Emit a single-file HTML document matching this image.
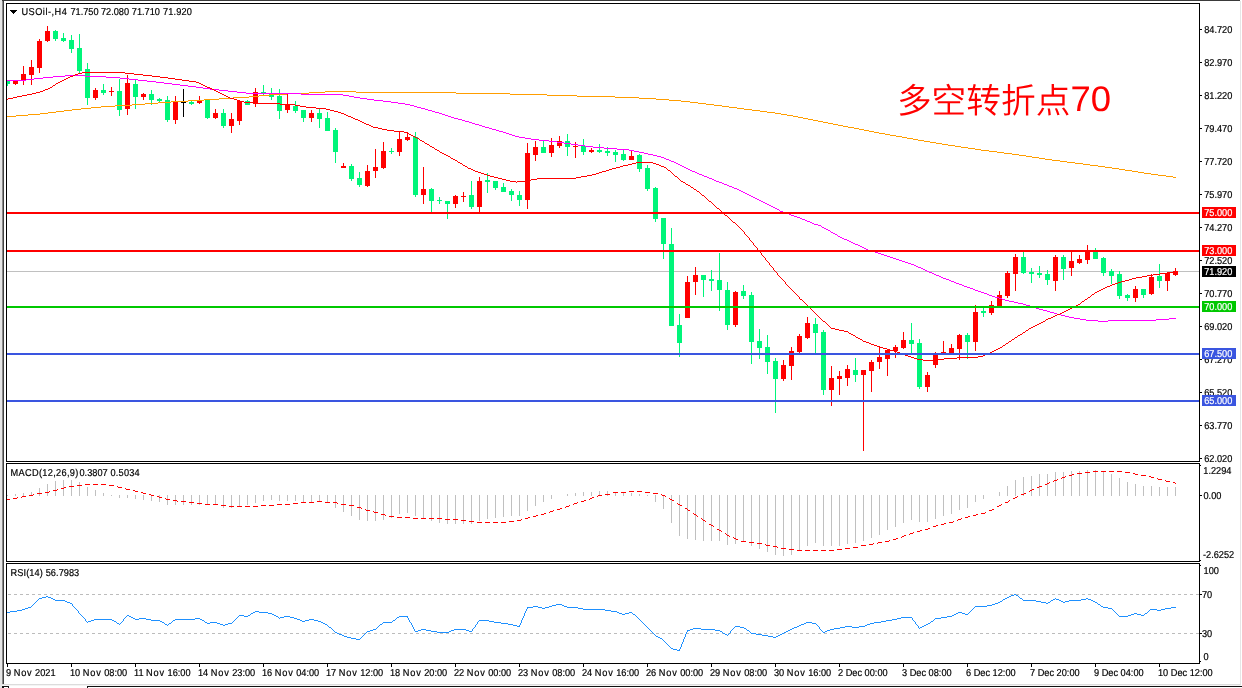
<!DOCTYPE html>
<html lang="zh"><head><meta charset="utf-8"><title>USOil-,H4</title>
<style>
html,body{margin:0;padding:0;background:#fff;overflow:hidden}
svg{display:block}
text{text-rendering:geometricPrecision;font-family:"Liberation Sans", "Noto Sans CJK SC", sans-serif;font-size:10px;fill:#000;stroke:#000;stroke-width:.2px}
.w{fill:#fff;stroke:#fff}
</style></head><body>
<svg width="1242" height="688" viewBox="0 0 1242 688">
<rect width="1242" height="688" fill="#fff"/>
<defs><clipPath id="cm"><rect x="7" y="4" width="1192" height="457"/></clipPath><clipPath id="c2"><rect x="7" y="464" width="1192" height="97"/></clipPath><clipPath id="c3"><rect x="7" y="564" width="1192" height="99"/></clipPath></defs>
<g clip-path="url(#cm)">
<rect x="7" y="271" width="1192" height="1" fill="#c0c0c0" shape-rendering="crispEdges"/>
<g shape-rendering="crispEdges">
<rect x="7" y="80" width="1" height="6" fill="#00f57a"/><rect x="5" y="80" width="5" height="4" fill="#00f57a"/>
<rect x="15" y="80" width="1" height="5" fill="#ff0000"/><rect x="13" y="81" width="5" height="3" fill="#ff0000"/>
<rect x="23" y="66" width="1" height="19" fill="#ff0000"/><rect x="21" y="74" width="5" height="7" fill="#ff0000"/>
<rect x="31" y="60" width="1" height="25" fill="#ff0000"/><rect x="29" y="67" width="5" height="8" fill="#ff0000"/>
<rect x="39" y="39" width="1" height="34" fill="#ff0000"/><rect x="37" y="41" width="5" height="27" fill="#ff0000"/>
<rect x="47" y="26" width="1" height="16" fill="#ff0000"/><rect x="45" y="31" width="5" height="10" fill="#ff0000"/>
<rect x="55" y="30" width="1" height="11" fill="#00f57a"/><rect x="53" y="31" width="5" height="8" fill="#00f57a"/>
<rect x="63" y="33" width="1" height="9" fill="#00f57a"/><rect x="61" y="38" width="5" height="3" fill="#00f57a"/>
<rect x="71" y="35" width="1" height="18" fill="#00f57a"/><rect x="69" y="40" width="5" height="9" fill="#00f57a"/>
<rect x="79" y="34" width="1" height="39" fill="#00f57a"/><rect x="77" y="48" width="5" height="23" fill="#00f57a"/>
<rect x="87" y="63" width="1" height="42" fill="#00f57a"/><rect x="85" y="69" width="5" height="29" fill="#00f57a"/>
<rect x="95" y="88" width="1" height="12" fill="#ff0000"/><rect x="93" y="90" width="5" height="8" fill="#ff0000"/>
<rect x="103" y="84" width="1" height="11" fill="#00f57a"/><rect x="101" y="90" width="5" height="3" fill="#00f57a"/>
<rect x="111" y="87" width="1" height="9" fill="#ff0000"/><rect x="109" y="91" width="5" height="1" fill="#ff0000"/>
<rect x="119" y="79" width="1" height="37" fill="#00f57a"/><rect x="117" y="91" width="5" height="19" fill="#00f57a"/>
<rect x="127" y="75" width="1" height="40" fill="#ff0000"/><rect x="125" y="83" width="5" height="26" fill="#ff0000"/>
<rect x="135" y="80" width="1" height="29" fill="#00f57a"/><rect x="133" y="84" width="5" height="13" fill="#00f57a"/>
<rect x="143" y="93" width="1" height="7" fill="#ff0000"/><rect x="141" y="94" width="5" height="3" fill="#ff0000"/>
<rect x="151" y="90" width="1" height="15" fill="#00f57a"/><rect x="149" y="94" width="5" height="6" fill="#00f57a"/>
<rect x="159" y="98" width="1" height="5" fill="#00f57a"/><rect x="157" y="99" width="5" height="2" fill="#00f57a"/>
<rect x="167" y="96" width="1" height="26" fill="#00f57a"/><rect x="165" y="100" width="5" height="20" fill="#00f57a"/>
<rect x="175" y="96" width="1" height="28" fill="#ff0000"/><rect x="173" y="102" width="5" height="18" fill="#ff0000"/>
<rect x="183" y="89" width="1" height="28" fill="#000000"/><rect x="181" y="102" width="5" height="1" fill="#000000"/>
<rect x="191" y="101" width="1" height="4" fill="#00f57a"/><rect x="189" y="102" width="5" height="2" fill="#00f57a"/>
<rect x="199" y="96" width="1" height="8" fill="#ff0000"/><rect x="197" y="100" width="5" height="3" fill="#ff0000"/>
<rect x="207" y="100" width="1" height="19" fill="#00f57a"/><rect x="205" y="100" width="5" height="18" fill="#00f57a"/>
<rect x="215" y="109" width="1" height="10" fill="#ff0000"/><rect x="213" y="113" width="5" height="5" fill="#ff0000"/>
<rect x="223" y="109" width="1" height="19" fill="#00f57a"/><rect x="221" y="113" width="5" height="13" fill="#00f57a"/>
<rect x="231" y="113" width="1" height="20" fill="#ff0000"/><rect x="229" y="119" width="5" height="7" fill="#ff0000"/>
<rect x="239" y="100" width="1" height="25" fill="#ff0000"/><rect x="237" y="101" width="5" height="20" fill="#ff0000"/>
<rect x="247" y="100" width="1" height="5" fill="#00f57a"/><rect x="245" y="101" width="5" height="4" fill="#00f57a"/>
<rect x="255" y="88" width="1" height="19" fill="#ff0000"/><rect x="253" y="92" width="5" height="12" fill="#ff0000"/>
<rect x="263" y="85" width="1" height="10" fill="#00f57a"/><rect x="261" y="92" width="5" height="1" fill="#00f57a"/>
<rect x="271" y="88" width="1" height="12" fill="#00f57a"/><rect x="269" y="94" width="5" height="3" fill="#00f57a"/>
<rect x="279" y="89" width="1" height="30" fill="#00f57a"/><rect x="277" y="96" width="5" height="15" fill="#00f57a"/>
<rect x="287" y="94" width="1" height="19" fill="#ff0000"/><rect x="285" y="105" width="5" height="5" fill="#ff0000"/>
<rect x="295" y="101" width="1" height="12" fill="#00f57a"/><rect x="293" y="106" width="5" height="5" fill="#00f57a"/>
<rect x="303" y="110" width="1" height="12" fill="#00f57a"/><rect x="301" y="110" width="5" height="8" fill="#00f57a"/>
<rect x="311" y="110" width="1" height="12" fill="#ff0000"/><rect x="309" y="113" width="5" height="5" fill="#ff0000"/>
<rect x="319" y="109" width="1" height="19" fill="#00f57a"/><rect x="317" y="113" width="5" height="6" fill="#00f57a"/>
<rect x="327" y="112" width="1" height="19" fill="#00f57a"/><rect x="325" y="118" width="5" height="13" fill="#00f57a"/>
<rect x="335" y="128" width="1" height="35" fill="#00f57a"/><rect x="333" y="130" width="5" height="22" fill="#00f57a"/>
<rect x="343" y="163" width="1" height="5" fill="#ff0000"/><rect x="341" y="166" width="5" height="2" fill="#ff0000"/>
<rect x="351" y="164" width="1" height="17" fill="#00f57a"/><rect x="349" y="166" width="5" height="13" fill="#00f57a"/>
<rect x="359" y="172" width="1" height="15" fill="#00f57a"/><rect x="357" y="178" width="5" height="7" fill="#00f57a"/>
<rect x="367" y="165" width="1" height="22" fill="#ff0000"/><rect x="365" y="171" width="5" height="15" fill="#ff0000"/>
<rect x="375" y="149" width="1" height="29" fill="#ff0000"/><rect x="373" y="167" width="5" height="4" fill="#ff0000"/>
<rect x="383" y="142" width="1" height="27" fill="#ff0000"/><rect x="381" y="151" width="5" height="17" fill="#ff0000"/>
<rect x="391" y="148" width="1" height="6" fill="#00f57a"/><rect x="389" y="151" width="5" height="1" fill="#00f57a"/>
<rect x="399" y="132" width="1" height="24" fill="#ff0000"/><rect x="397" y="139" width="5" height="13" fill="#ff0000"/>
<rect x="407" y="132" width="1" height="9" fill="#ff0000"/><rect x="405" y="137" width="5" height="3" fill="#ff0000"/>
<rect x="415" y="132" width="1" height="65" fill="#00f57a"/><rect x="413" y="137" width="5" height="58" fill="#00f57a"/>
<rect x="423" y="167" width="1" height="37" fill="#ff0000"/><rect x="421" y="189" width="5" height="6" fill="#ff0000"/>
<rect x="431" y="188" width="1" height="24" fill="#00f57a"/><rect x="429" y="189" width="5" height="12" fill="#00f57a"/>
<rect x="439" y="197" width="1" height="7" fill="#00f57a"/><rect x="437" y="200" width="5" height="1" fill="#00f57a"/>
<rect x="447" y="201" width="1" height="18" fill="#00f57a"/><rect x="445" y="201" width="5" height="3" fill="#00f57a"/>
<rect x="455" y="195" width="1" height="13" fill="#ff0000"/><rect x="453" y="196" width="5" height="8" fill="#ff0000"/>
<rect x="463" y="192" width="1" height="10" fill="#ff0000"/><rect x="461" y="196" width="5" height="1" fill="#ff0000"/>
<rect x="471" y="181" width="1" height="28" fill="#00f57a"/><rect x="469" y="195" width="5" height="12" fill="#00f57a"/>
<rect x="479" y="177" width="1" height="35" fill="#ff0000"/><rect x="477" y="181" width="5" height="26" fill="#ff0000"/>
<rect x="487" y="173" width="1" height="20" fill="#00f57a"/><rect x="485" y="180" width="5" height="2" fill="#00f57a"/>
<rect x="495" y="181" width="1" height="9" fill="#00f57a"/><rect x="493" y="181" width="5" height="7" fill="#00f57a"/>
<rect x="503" y="183" width="1" height="9" fill="#00f57a"/><rect x="501" y="187" width="5" height="5" fill="#00f57a"/>
<rect x="511" y="189" width="1" height="12" fill="#00f57a"/><rect x="509" y="191" width="5" height="4" fill="#00f57a"/>
<rect x="519" y="191" width="1" height="15" fill="#00f57a"/><rect x="517" y="195" width="5" height="5" fill="#00f57a"/>
<rect x="527" y="143" width="1" height="66" fill="#ff0000"/><rect x="525" y="153" width="5" height="47" fill="#ff0000"/>
<rect x="535" y="141" width="1" height="20" fill="#ff0000"/><rect x="533" y="147" width="5" height="8" fill="#ff0000"/>
<rect x="543" y="141" width="1" height="12" fill="#00f57a"/><rect x="541" y="147" width="5" height="6" fill="#00f57a"/>
<rect x="551" y="138" width="1" height="19" fill="#ff0000"/><rect x="549" y="145" width="5" height="8" fill="#ff0000"/>
<rect x="559" y="136" width="1" height="12" fill="#ff0000"/><rect x="557" y="141" width="5" height="5" fill="#ff0000"/>
<rect x="567" y="134" width="1" height="22" fill="#00f57a"/><rect x="565" y="141" width="5" height="6" fill="#00f57a"/>
<rect x="575" y="142" width="1" height="16" fill="#ff0000"/><rect x="573" y="146" width="5" height="1" fill="#ff0000"/>
<rect x="583" y="139" width="1" height="16" fill="#00f57a"/><rect x="581" y="146" width="5" height="6" fill="#00f57a"/>
<rect x="591" y="148" width="1" height="5" fill="#ff0000"/><rect x="589" y="150" width="5" height="2" fill="#ff0000"/>
<rect x="599" y="144" width="1" height="9" fill="#00f57a"/><rect x="597" y="150" width="5" height="2" fill="#00f57a"/>
<rect x="607" y="147" width="1" height="9" fill="#00f57a"/><rect x="605" y="151" width="5" height="2" fill="#00f57a"/>
<rect x="615" y="150" width="1" height="12" fill="#00f57a"/><rect x="613" y="152" width="5" height="3" fill="#00f57a"/>
<rect x="623" y="150" width="1" height="11" fill="#00f57a"/><rect x="621" y="154" width="5" height="6" fill="#00f57a"/>
<rect x="631" y="151" width="1" height="9" fill="#ff0000"/><rect x="629" y="156" width="5" height="4" fill="#ff0000"/>
<rect x="639" y="154" width="1" height="18" fill="#00f57a"/><rect x="637" y="155" width="5" height="14" fill="#00f57a"/>
<rect x="647" y="165" width="1" height="26" fill="#00f57a"/><rect x="645" y="168" width="5" height="21" fill="#00f57a"/>
<rect x="655" y="187" width="1" height="35" fill="#00f57a"/><rect x="653" y="188" width="5" height="31" fill="#00f57a"/>
<rect x="663" y="218" width="1" height="41" fill="#00f57a"/><rect x="661" y="218" width="5" height="26" fill="#00f57a"/>
<rect x="671" y="228" width="1" height="98" fill="#00f57a"/><rect x="669" y="244" width="5" height="82" fill="#00f57a"/>
<rect x="679" y="314" width="1" height="43" fill="#00f57a"/><rect x="677" y="325" width="5" height="18" fill="#00f57a"/>
<rect x="687" y="276" width="1" height="42" fill="#ff0000"/><rect x="685" y="282" width="5" height="36" fill="#ff0000"/>
<rect x="695" y="267" width="1" height="28" fill="#ff0000"/><rect x="693" y="275" width="5" height="7" fill="#ff0000"/>
<rect x="703" y="275" width="1" height="22" fill="#00f57a"/><rect x="701" y="275" width="5" height="5" fill="#00f57a"/>
<rect x="711" y="270" width="1" height="21" fill="#00f57a"/><rect x="709" y="279" width="5" height="2" fill="#00f57a"/>
<rect x="719" y="253" width="1" height="58" fill="#00f57a"/><rect x="717" y="280" width="5" height="10" fill="#00f57a"/>
<rect x="727" y="282" width="1" height="48" fill="#00f57a"/><rect x="725" y="290" width="5" height="35" fill="#00f57a"/>
<rect x="735" y="291" width="1" height="36" fill="#ff0000"/><rect x="733" y="292" width="5" height="33" fill="#ff0000"/>
<rect x="743" y="285" width="1" height="14" fill="#00f57a"/><rect x="741" y="291" width="5" height="5" fill="#00f57a"/>
<rect x="751" y="292" width="1" height="72" fill="#00f57a"/><rect x="749" y="295" width="5" height="47" fill="#00f57a"/>
<rect x="759" y="329" width="1" height="30" fill="#00f57a"/><rect x="757" y="341" width="5" height="7" fill="#00f57a"/>
<rect x="767" y="335" width="1" height="39" fill="#00f57a"/><rect x="765" y="347" width="5" height="15" fill="#00f57a"/>
<rect x="775" y="358" width="1" height="55" fill="#00f57a"/><rect x="773" y="361" width="5" height="18" fill="#00f57a"/>
<rect x="783" y="360" width="1" height="21" fill="#ff0000"/><rect x="781" y="365" width="5" height="14" fill="#ff0000"/>
<rect x="791" y="347" width="1" height="33" fill="#ff0000"/><rect x="789" y="351" width="5" height="15" fill="#ff0000"/>
<rect x="799" y="334" width="1" height="19" fill="#ff0000"/><rect x="797" y="336" width="5" height="16" fill="#ff0000"/>
<rect x="807" y="317" width="1" height="22" fill="#ff0000"/><rect x="805" y="323" width="5" height="15" fill="#ff0000"/>
<rect x="815" y="318" width="1" height="35" fill="#00f57a"/><rect x="813" y="324" width="5" height="9" fill="#00f57a"/>
<rect x="823" y="330" width="1" height="65" fill="#00f57a"/><rect x="821" y="332" width="5" height="58" fill="#00f57a"/>
<rect x="831" y="366" width="1" height="40" fill="#ff0000"/><rect x="829" y="378" width="5" height="12" fill="#ff0000"/>
<rect x="839" y="371" width="1" height="24" fill="#ff0000"/><rect x="837" y="376" width="5" height="3" fill="#ff0000"/>
<rect x="847" y="365" width="1" height="21" fill="#ff0000"/><rect x="845" y="369" width="5" height="9" fill="#ff0000"/>
<rect x="855" y="358" width="1" height="24" fill="#00f57a"/><rect x="853" y="370" width="5" height="5" fill="#00f57a"/>
<rect x="863" y="370" width="1" height="81" fill="#ff0000"/><rect x="861" y="370" width="5" height="5" fill="#ff0000"/>
<rect x="871" y="360" width="1" height="32" fill="#ff0000"/><rect x="869" y="362" width="5" height="9" fill="#ff0000"/>
<rect x="879" y="346" width="1" height="23" fill="#ff0000"/><rect x="877" y="357" width="5" height="5" fill="#ff0000"/>
<rect x="887" y="349" width="1" height="27" fill="#ff0000"/><rect x="885" y="350" width="5" height="9" fill="#ff0000"/>
<rect x="895" y="345" width="1" height="13" fill="#ff0000"/><rect x="893" y="347" width="5" height="4" fill="#ff0000"/>
<rect x="903" y="332" width="1" height="17" fill="#ff0000"/><rect x="901" y="340" width="5" height="8" fill="#ff0000"/>
<rect x="911" y="323" width="1" height="31" fill="#00f57a"/><rect x="909" y="340" width="5" height="4" fill="#00f57a"/>
<rect x="919" y="339" width="1" height="50" fill="#00f57a"/><rect x="917" y="343" width="5" height="44" fill="#00f57a"/>
<rect x="927" y="372" width="1" height="20" fill="#ff0000"/><rect x="925" y="375" width="5" height="12" fill="#ff0000"/>
<rect x="935" y="352" width="1" height="16" fill="#ff0000"/><rect x="933" y="355" width="5" height="10" fill="#ff0000"/>
<rect x="943" y="341" width="1" height="13" fill="#ff0000"/><rect x="941" y="352" width="5" height="2" fill="#ff0000"/>
<rect x="951" y="344" width="1" height="10" fill="#ff0000"/><rect x="949" y="348" width="5" height="6" fill="#ff0000"/>
<rect x="959" y="334" width="1" height="26" fill="#ff0000"/><rect x="957" y="335" width="5" height="14" fill="#ff0000"/>
<rect x="967" y="333" width="1" height="26" fill="#00f57a"/><rect x="965" y="335" width="5" height="7" fill="#00f57a"/>
<rect x="975" y="305" width="1" height="46" fill="#ff0000"/><rect x="973" y="312" width="5" height="30" fill="#ff0000"/>
<rect x="983" y="308" width="1" height="9" fill="#00f57a"/><rect x="981" y="311" width="5" height="2" fill="#00f57a"/>
<rect x="991" y="301" width="1" height="14" fill="#ff0000"/><rect x="989" y="305" width="5" height="8" fill="#ff0000"/>
<rect x="999" y="291" width="1" height="15" fill="#ff0000"/><rect x="997" y="295" width="5" height="11" fill="#ff0000"/>
<rect x="1007" y="271" width="1" height="27" fill="#ff0000"/><rect x="1005" y="273" width="5" height="23" fill="#ff0000"/>
<rect x="1015" y="254" width="1" height="37" fill="#ff0000"/><rect x="1013" y="257" width="5" height="17" fill="#ff0000"/>
<rect x="1023" y="252" width="1" height="22" fill="#00f57a"/><rect x="1021" y="257" width="5" height="16" fill="#00f57a"/>
<rect x="1031" y="268" width="1" height="15" fill="#00f57a"/><rect x="1029" y="272" width="5" height="2" fill="#00f57a"/>
<rect x="1039" y="266" width="1" height="12" fill="#00f57a"/><rect x="1037" y="273" width="5" height="2" fill="#00f57a"/>
<rect x="1047" y="270" width="1" height="15" fill="#00f57a"/><rect x="1045" y="274" width="5" height="6" fill="#00f57a"/>
<rect x="1055" y="255" width="1" height="36" fill="#ff0000"/><rect x="1053" y="257" width="5" height="24" fill="#ff0000"/>
<rect x="1063" y="255" width="1" height="25" fill="#00f57a"/><rect x="1061" y="257" width="5" height="12" fill="#00f57a"/>
<rect x="1071" y="251" width="1" height="25" fill="#ff0000"/><rect x="1069" y="261" width="5" height="7" fill="#ff0000"/>
<rect x="1079" y="255" width="1" height="9" fill="#ff0000"/><rect x="1077" y="259" width="5" height="4" fill="#ff0000"/>
<rect x="1087" y="245" width="1" height="19" fill="#ff0000"/><rect x="1085" y="251" width="5" height="9" fill="#ff0000"/>
<rect x="1095" y="248" width="1" height="11" fill="#00f57a"/><rect x="1093" y="251" width="5" height="8" fill="#00f57a"/>
<rect x="1103" y="257" width="1" height="19" fill="#00f57a"/><rect x="1101" y="258" width="5" height="15" fill="#00f57a"/>
<rect x="1111" y="269" width="1" height="15" fill="#00f57a"/><rect x="1109" y="271" width="5" height="5" fill="#00f57a"/>
<rect x="1119" y="271" width="1" height="28" fill="#00f57a"/><rect x="1117" y="274" width="5" height="22" fill="#00f57a"/>
<rect x="1127" y="294" width="1" height="7" fill="#00f57a"/><rect x="1125" y="295" width="5" height="3" fill="#00f57a"/>
<rect x="1135" y="286" width="1" height="16" fill="#ff0000"/><rect x="1133" y="289" width="5" height="9" fill="#ff0000"/>
<rect x="1143" y="289" width="1" height="9" fill="#00f57a"/><rect x="1141" y="289" width="5" height="6" fill="#00f57a"/>
<rect x="1151" y="274" width="1" height="21" fill="#ff0000"/><rect x="1149" y="277" width="5" height="17" fill="#ff0000"/>
<rect x="1159" y="264" width="1" height="24" fill="#00f57a"/><rect x="1157" y="276" width="5" height="5" fill="#00f57a"/>
<rect x="1167" y="272" width="1" height="19" fill="#ff0000"/><rect x="1165" y="273" width="5" height="8" fill="#ff0000"/>
<rect x="1175" y="268" width="1" height="8" fill="#ff0000"/><rect x="1173" y="271" width="5" height="4" fill="#ff0000"/>
</g>
<path fill="#ff9d00" shape-rendering="crispEdges" d="M7 116h9v1h-9zM16 115h12v1h-12zM28 114h12v1h-12zM40 113h8v1h-8zM48 112h8v1h-8zM56 111h8v1h-8zM64 110h8v1h-8zM72 109h9v1h-9zM81 108h10v1h-10zM91 107h10v1h-10zM101 106h14v1h-14zM115 105h17v1h-17zM132 104h13v1h-13zM145 103h13v1h-13zM158 102h13v1h-13zM171 101h17v1h-17zM188 100h16v1h-16zM204 99h15v1h-15zM219 98h14v1h-14zM233 97h16v1h-16zM249 96h10v1h-10zM259 95h11v1h-11zM270 94h17v1h-17zM287 93h22v1h-22zM309 92h16v1h-16zM325 91h31v1h-31zM356 92h100v1h-100zM456 93h54v1h-54zM510 94h37v1h-37zM547 95h30v1h-30zM577 96h38v1h-38zM615 97h24v1h-24zM639 98h17v1h-17zM656 99h13v1h-13zM669 100h12v1h-12zM681 101h9v1h-9zM690 102h8v1h-8zM698 103h8v1h-8zM706 104h8v1h-8zM714 105h8v1h-8zM722 106h7v1h-7zM729 107h8v1h-8zM737 108h7v1h-7zM744 109h8v1h-8zM752 110h8v1h-8zM760 111h7v1h-7zM767 112h8v1h-8zM775 113h6v1h-6zM781 114h6v1h-6zM787 115h6v1h-6zM793 116h5v1h-5zM798 117h5v1h-5zM803 118h5v1h-5zM808 119h5v1h-5zM813 120h5v1h-5zM818 121h5v1h-5zM823 122h5v1h-5zM828 123h5v1h-5zM833 124h5v1h-5zM838 125h5v1h-5zM843 126h5v1h-5zM848 127h6v1h-6zM854 128h5v1h-5zM859 129h5v1h-5zM864 130h5v1h-5zM869 131h5v1h-5zM874 132h5v1h-5zM879 133h6v1h-6zM885 134h5v1h-5zM890 135h6v1h-6zM896 136h6v1h-6zM902 137h5v1h-5zM907 138h6v1h-6zM913 139h5v1h-5zM918 140h6v1h-6zM924 141h6v1h-6zM930 142h6v1h-6zM936 143h6v1h-6zM942 144h6v1h-6zM948 145h7v1h-7zM955 146h6v1h-6zM961 147h7v1h-7zM968 148h7v1h-7zM975 149h6v1h-6zM981 150h8v1h-8zM989 151h8v1h-8zM997 152h7v1h-7zM1004 153h8v1h-8zM1012 154h7v1h-7zM1019 155h7v1h-7zM1026 156h6v1h-6zM1032 157h7v1h-7zM1039 158h6v1h-6zM1045 159h7v1h-7zM1052 160h8v1h-8zM1060 161h7v1h-7zM1067 162h8v1h-8zM1075 163h8v1h-8zM1083 164h7v1h-7zM1090 165h8v1h-8zM1098 166h7v1h-7zM1105 167h7v1h-7zM1112 168h7v1h-7zM1119 169h6v1h-6zM1125 170h7v1h-7zM1132 171h6v1h-6zM1138 172h6v1h-6zM1144 173h7v1h-7zM1151 174h7v1h-7zM1158 175h8v1h-8zM1166 176h7v1h-7zM1173 177h3v1h-3z"/>
<path fill="#ff00ff" shape-rendering="crispEdges" d="M7 80h19v1h-19zM26 79h8v1h-8zM34 78h9v1h-9zM43 77h10v1h-10zM53 76h12v1h-12zM65 75h20v1h-20zM85 76h21v1h-21zM106 77h14v1h-14zM120 78h9v1h-9zM129 79h9v1h-9zM138 80h9v1h-9zM147 81h9v1h-9zM156 82h8v1h-8zM164 83h8v1h-8zM172 84h8v1h-8zM180 85h8v1h-8zM188 86h8v1h-8zM196 87h7v1h-7zM203 88h7v1h-7zM210 89h9v1h-9zM219 90h9v1h-9zM228 91h9v1h-9zM237 92h9v1h-9zM246 93h55v1h-55zM301 94h42v1h-42zM343 95h6v1h-6zM349 96h5v1h-5zM354 97h6v1h-6zM360 98h7v1h-7zM367 99h7v1h-7zM374 100h9v1h-9zM383 101h8v1h-8zM391 102h7v1h-7zM398 103h7v1h-7zM405 104h5v1h-5zM410 105h4v1h-4zM414 106h3v1h-3zM417 107h4v1h-4zM421 108h4v1h-4zM425 109h3v1h-3zM428 110h4v1h-4zM432 111h3v1h-3zM435 112h4v1h-4zM439 113h3v1h-3zM442 114h3v1h-3zM445 115h3v1h-3zM448 116h3v1h-3zM451 117h3v1h-3zM454 118h4v1h-4zM458 119h4v1h-4zM462 120h3v1h-3zM465 121h4v1h-4zM469 122h3v1h-3zM472 123h3v1h-3zM475 124h4v1h-4zM479 125h3v1h-3zM482 126h3v1h-3zM485 127h4v1h-4zM489 128h3v1h-3zM492 129h4v1h-4zM496 130h3v1h-3zM499 131h4v1h-4zM503 132h3v1h-3zM506 133h3v1h-3zM509 134h3v1h-3zM512 135h3v1h-3zM515 136h4v1h-4zM519 137h6v1h-6zM525 138h6v1h-6zM531 139h8v1h-8zM539 140h10v1h-10zM549 141h8v1h-8zM557 142h7v1h-7zM564 143h7v1h-7zM571 144h7v1h-7zM578 145h7v1h-7zM585 146h8v1h-8zM593 147h11v1h-11zM604 148h13v1h-13zM617 149h12v1h-12zM629 150h5v1h-5zM634 151h5v1h-5zM639 152h5v1h-5zM644 153h4v1h-4zM648 154h5v1h-5zM653 155h4v1h-4zM657 156h4v1h-4zM661 157h3v1h-3zM664 158h2v1h-2zM666 159h3v1h-3zM669 160h2v1h-2zM671 161h3v1h-3zM674 162h2v1h-2zM676 163h2v1h-2zM678 164h2v1h-2zM680 165h2v1h-2zM682 166h2v1h-2zM684 167h2v1h-2zM686 168h2v1h-2zM688 169h2v1h-2zM690 170h2v1h-2zM692 171h3v1h-3zM695 172h2v1h-2zM697 173h2v1h-2zM699 174h3v1h-3zM702 175h2v1h-2zM704 176h3v1h-3zM707 177h2v1h-2zM709 178h3v1h-3zM712 179h2v1h-2zM714 180h2v1h-2zM716 181h3v1h-3zM719 182h3v1h-3zM722 183h2v1h-2zM724 184h3v1h-3zM727 185h2v1h-2zM729 186h3v1h-3zM732 187h2v1h-2zM734 188h3v1h-3zM737 189h2v1h-2zM739 190h2v1h-2zM741 191h2v1h-2zM743 192h2v1h-2zM745 193h2v1h-2zM747 194h2v1h-2zM749 195h2v1h-2zM751 196h2v1h-2zM753 197h2v1h-2zM755 198h2v1h-2zM757 199h2v1h-2zM759 200h2v1h-2zM761 201h2v1h-2zM763 202h2v1h-2zM765 203h2v1h-2zM767 204h2v1h-2zM769 205h2v1h-2zM771 206h2v1h-2zM773 207h2v1h-2zM775 208h2v1h-2zM777 209h2v1h-2zM779 210h1v1h-1zM780 211h3v1h-3zM783 212h3v1h-3zM786 213h3v1h-3zM789 214h2v1h-2zM791 215h3v1h-3zM794 216h3v1h-3zM797 217h3v1h-3zM800 218h2v1h-2zM802 219h3v1h-3zM805 220h2v1h-2zM807 221h3v1h-3zM810 222h2v1h-2zM812 223h2v1h-2zM814 224h4v1h-4zM818 225h3v1h-3zM821 226h1v1h-1zM822 227h2v1h-2zM824 228h2v1h-2zM826 229h2v1h-2zM828 230h2v1h-2zM830 231h1v1h-1zM831 232h2v1h-2zM833 233h2v1h-2zM835 234h2v1h-2zM837 235h1v1h-1zM838 236h2v1h-2zM840 237h2v1h-2zM842 238h2v1h-2zM844 239h3v1h-3zM847 240h2v1h-2zM849 241h2v1h-2zM851 242h2v1h-2zM853 243h2v1h-2zM855 244h3v1h-3zM858 245h2v1h-2zM860 246h2v1h-2zM862 247h2v1h-2zM864 248h2v1h-2zM866 249h2v1h-2zM868 250h4v1h-4zM872 251h3v1h-3zM875 252h3v1h-3zM878 253h3v1h-3zM881 254h3v1h-3zM884 255h3v1h-3zM887 256h3v1h-3zM890 257h3v1h-3zM893 258h3v1h-3zM896 259h3v1h-3zM899 260h3v1h-3zM902 261h3v1h-3zM905 262h3v1h-3zM908 263h3v1h-3zM911 264h3v1h-3zM914 265h2v1h-2zM916 266h2v1h-2zM918 267h3v1h-3zM921 268h2v1h-2zM923 269h2v1h-2zM925 270h2v1h-2zM927 271h2v1h-2zM929 272h3v1h-3zM932 273h2v1h-2zM934 274h2v1h-2zM936 275h3v1h-3zM939 276h2v1h-2zM941 277h2v1h-2zM943 278h3v1h-3zM946 279h3v1h-3zM949 280h2v1h-2zM951 281h3v1h-3zM954 282h2v1h-2zM956 283h3v1h-3zM959 284h3v1h-3zM962 285h2v1h-2zM964 286h3v1h-3zM967 287h3v1h-3zM970 288h3v1h-3zM973 289h2v1h-2zM975 290h3v1h-3zM978 291h3v1h-3zM981 292h3v1h-3zM984 293h3v1h-3zM987 294h2v1h-2zM989 295h3v1h-3zM992 296h3v1h-3zM995 297h4v1h-4zM999 298h3v1h-3zM1002 299h3v1h-3zM1005 300h4v1h-4zM1009 301h5v1h-5zM1014 302h4v1h-4zM1018 303h5v1h-5zM1023 304h3v1h-3zM1026 305h4v1h-4zM1030 306h3v1h-3zM1033 307h3v1h-3zM1036 308h3v1h-3zM1039 309h4v1h-4zM1043 310h4v1h-4zM1047 311h3v1h-3zM1050 312h4v1h-4zM1054 313h3v1h-3zM1057 314h4v1h-4zM1061 315h4v1h-4zM1065 316h4v1h-4zM1069 317h5v1h-5zM1074 318h6v1h-6zM1080 319h6v1h-6zM1086 320h12v1h-12zM1098 321h10v1h-10zM1108 320h48v1h-48zM1156 319h13v1h-13zM1169 318h7v1h-7z"/>
<path fill="#ff0000" shape-rendering="crispEdges" d="M7 99h1v1h-1zM8 98h5v1h-5zM13 97h4v1h-4zM17 96h5v1h-5zM22 95h5v1h-5zM27 94h5v1h-5zM32 93h4v1h-4zM36 92h4v1h-4zM40 91h3v1h-3zM43 90h2v1h-2zM45 89h3v1h-3zM48 88h2v1h-2zM50 87h2v1h-2zM52 86h1v1h-1zM53 85h2v1h-2zM55 84h1v1h-1zM56 83h2v1h-2zM58 82h2v1h-2zM60 81h2v1h-2zM62 80h2v1h-2zM64 79h2v1h-2zM66 78h2v1h-2zM68 77h2v1h-2zM70 76h3v1h-3zM73 75h2v1h-2zM75 74h3v1h-3zM78 73h4v1h-4zM82 72h43v1h-43zM125 73h9v1h-9zM134 74h9v1h-9zM143 75h9v1h-9zM152 76h8v1h-8zM160 77h8v1h-8zM168 78h7v1h-7zM175 79h7v1h-7zM182 80h7v1h-7zM189 81h7v1h-7zM196 82h3v1h-3zM199 83h2v1h-2zM201 84h2v1h-2zM203 85h2v1h-2zM205 86h2v1h-2zM207 87h3v1h-3zM210 88h2v1h-2zM212 89h2v1h-2zM214 90h2v1h-2zM216 91h2v1h-2zM218 92h2v1h-2zM220 93h2v1h-2zM222 94h2v1h-2zM224 95h2v1h-2zM226 96h2v1h-2zM228 97h2v1h-2zM230 98h4v1h-4zM234 99h3v1h-3zM237 100h3v1h-3zM240 101h4v1h-4zM244 102h12v1h-12zM256 103h24v1h-24zM280 104h15v1h-15zM295 105h5v1h-5zM300 106h6v1h-6zM306 107h10v1h-10zM316 108h10v1h-10zM326 109h4v1h-4zM330 110h4v1h-4zM334 111h4v1h-4zM338 112h3v1h-3zM341 113h3v1h-3zM344 114h2v1h-2zM346 115h2v1h-2zM348 116h3v1h-3zM351 117h2v1h-2zM353 118h2v1h-2zM355 119h3v1h-3zM358 120h2v1h-2zM360 121h2v1h-2zM362 122h2v1h-2zM364 123h2v1h-2zM366 124h3v1h-3zM369 125h2v1h-2zM371 126h2v1h-2zM373 127h5v1h-5zM378 128h4v1h-4zM382 129h5v1h-5zM387 130h7v1h-7zM394 131h10v1h-10zM404 132h3v1h-3zM407 133h2v1h-2zM409 134h2v1h-2zM411 135h2v1h-2zM413 136h2v1h-2zM415 137h2v1h-2zM417 138h2v1h-2zM419 139h1v1h-1zM420 140h2v1h-2zM422 141h2v1h-2zM424 142h1v1h-1zM425 143h2v1h-2zM427 144h2v1h-2zM429 145h1v1h-1zM430 146h2v1h-2zM432 147h2v1h-2zM434 148h1v1h-1zM435 149h2v1h-2zM437 150h2v1h-2zM439 151h1v1h-1zM440 152h2v1h-2zM442 153h2v1h-2zM444 154h2v1h-2zM446 155h2v1h-2zM448 156h2v1h-2zM450 157h1v1h-1zM451 158h2v1h-2zM453 159h2v1h-2zM455 160h2v1h-2zM457 161h1v1h-1zM458 162h2v1h-2zM460 163h2v1h-2zM462 164h1v1h-1zM463 165h2v1h-2zM465 166h2v1h-2zM467 167h1v1h-1zM468 168h3v1h-3zM471 169h2v1h-2zM473 170h2v1h-2zM475 171h3v1h-3zM478 172h3v1h-3zM481 173h3v1h-3zM484 174h3v1h-3zM487 175h3v1h-3zM490 176h4v1h-4zM494 177h4v1h-4zM498 178h4v1h-4zM502 179h4v1h-4zM506 180h4v1h-4zM510 181h6v1h-6zM516 182h1v1h-1zM517 181h9v1h-9zM526 180h5v1h-5zM531 179h6v1h-6zM537 178h39v1h-39zM576 177h5v1h-5zM581 176h6v1h-6zM587 175h5v1h-5zM592 174h4v1h-4zM596 173h3v1h-3zM599 172h3v1h-3zM602 171h4v1h-4zM606 170h3v1h-3zM609 169h3v1h-3zM612 168h4v1h-4zM616 167h4v1h-4zM620 166h3v1h-3zM623 165h5v1h-5zM628 164h4v1h-4zM632 163h4v1h-4zM636 162h17v1h-17zM653 163h3v1h-3zM656 164h3v1h-3zM659 165h2v1h-2zM661 166h3v1h-3zM664 167h2v1h-2zM666 168h1v1h-1zM667 169h1v1h-1zM668 170h2v1h-2zM670 171h1v1h-1zM671 172h1v1h-1zM672 173h1v1h-1zM673 174h1v1h-1zM674 175h1v1h-1zM675 176h2v1h-2zM677 177h1v1h-1zM678 178h1v1h-1zM679 179h1v1h-1zM680 180h1v1h-1zM681 181h2v1h-2zM683 182h2v1h-2zM685 183h1v1h-1zM686 184h2v1h-2zM688 185h2v1h-2zM690 186h1v1h-1zM691 187h2v1h-2zM693 188h1v1h-1zM694 189h2v1h-2zM696 190h1v1h-1zM697 191h2v1h-2zM699 192h1v1h-1zM700 193h1v1h-1zM701 194h1v1h-1zM702 195h2v1h-2zM704 196h1v1h-1zM705 197h1v1h-1zM706 198h1v1h-1zM707 199h1v1h-1zM708 200h1v1h-1zM709 201h2v1h-2zM711 202h1v1h-1zM712 203h1v1h-1zM713 204h1v1h-1zM714 205h1v1h-1zM715 206h1v1h-1zM716 207h1v1h-1zM717 208h2v1h-2zM719 209h1v1h-1zM720 210h1v1h-1zM721 211h1v1h-1zM722 212h1v1h-1zM723 213h1v1h-1zM724 214h1v1h-1zM725 215h2v1h-2zM727 216h1v1h-1zM728 217h1v1h-1zM729 218h1v1h-1zM730 219h1v1h-1zM731 220h1v1h-1zM732 221h1v1h-1zM733 222h2v1h-2zM735 223h1v1h-1zM736 224h1v1h-1zM737 225h1v1h-1zM738 226h1v1h-1zM739 227h1v1h-1zM740 228h1v1h-1zM741 229h1v1h-1zM742 230h1v1h-1zM743 231h1v1h-1zM744 232h1v2h-1zM745 234h1v1h-1zM746 235h1v1h-1zM747 236h1v1h-1zM748 237h1v1h-1zM749 238h1v2h-1zM750 240h1v1h-1zM751 241h1v1h-1zM752 242h1v1h-1zM753 243h1v2h-1zM754 245h1v1h-1zM755 246h1v1h-1zM756 247h1v1h-1zM757 248h1v2h-1zM758 250h1v1h-1zM759 251h1v1h-1zM760 252h1v1h-1zM761 253h1v2h-1zM762 255h1v1h-1zM763 256h1v1h-1zM764 257h1v1h-1zM765 258h1v2h-1zM766 260h1v1h-1zM767 261h1v1h-1zM768 262h1v1h-1zM769 263h1v2h-1zM770 265h1v1h-1zM771 266h1v1h-1zM772 267h1v1h-1zM773 268h1v2h-1zM774 270h1v1h-1zM775 271h1v1h-1zM776 272h1v1h-1zM777 273h1v2h-1zM778 275h1v1h-1zM779 276h1v1h-1zM780 277h1v1h-1zM781 278h1v1h-1zM782 279h1v1h-1zM783 280h1v1h-1zM784 281h1v1h-1zM785 282h1v2h-1zM786 284h1v1h-1zM787 285h1v1h-1zM788 286h1v1h-1zM789 287h1v1h-1zM790 288h1v1h-1zM791 289h1v1h-1zM792 290h1v1h-1zM793 291h1v1h-1zM794 292h1v1h-1zM795 293h1v1h-1zM796 294h1v1h-1zM797 295h1v1h-1zM798 296h1v1h-1zM799 297h1v2h-1zM800 299h2v1h-2zM802 300h1v1h-1zM803 301h1v1h-1zM804 302h1v1h-1zM805 303h1v1h-1zM806 304h1v1h-1zM807 305h1v1h-1zM808 306h1v1h-1zM809 307h1v1h-1zM810 308h1v1h-1zM811 309h1v1h-1zM812 310h1v1h-1zM813 311h1v1h-1zM814 312h1v1h-1zM815 313h1v1h-1zM816 314h1v1h-1zM817 315h1v1h-1zM818 316h1v1h-1zM819 317h1v1h-1zM820 318h1v1h-1zM821 319h1v1h-1zM822 320h1v1h-1zM823 321h2v1h-2zM825 322h1v1h-1zM826 323h1v1h-1zM827 324h1v1h-1zM828 325h1v1h-1zM829 326h1v1h-1zM830 327h1v1h-1zM831 328h4v1h-4zM835 329h4v1h-4zM839 330h5v1h-5zM844 331h4v1h-4zM848 332h1v1h-1zM849 333h2v1h-2zM851 334h2v1h-2zM853 335h2v1h-2zM855 336h1v1h-1zM856 337h2v1h-2zM858 338h2v1h-2zM860 339h2v1h-2zM862 340h1v1h-1zM863 341h3v1h-3zM866 342h3v1h-3zM869 343h2v1h-2zM871 344h3v1h-3zM874 345h3v1h-3zM877 346h2v1h-2zM879 347h4v1h-4zM883 348h4v1h-4zM887 349h3v1h-3zM890 350h4v1h-4zM894 351h3v1h-3zM897 352h3v1h-3zM900 353h3v1h-3zM903 354h2v1h-2zM905 355h3v1h-3zM908 356h3v1h-3zM911 357h3v1h-3zM914 358h3v1h-3zM917 359h6v1h-6zM923 360h15v1h-15zM938 359h6v1h-6zM944 358h13v1h-13zM957 357h21v1h-21zM978 356h5v1h-5zM983 355h2v1h-2zM985 354h3v1h-3zM988 353h2v1h-2zM990 352h2v1h-2zM992 351h2v1h-2zM994 350h2v1h-2zM996 349h2v1h-2zM998 348h2v1h-2zM1000 347h2v1h-2zM1002 346h1v1h-1zM1003 345h2v1h-2zM1005 344h1v1h-1zM1006 343h2v1h-2zM1008 342h1v1h-1zM1009 341h2v1h-2zM1011 340h1v1h-1zM1012 339h2v1h-2zM1014 338h1v1h-1zM1015 337h2v1h-2zM1017 336h1v1h-1zM1018 335h2v1h-2zM1020 334h2v1h-2zM1022 333h1v1h-1zM1023 332h2v1h-2zM1025 331h1v1h-1zM1026 330h2v1h-2zM1028 329h1v1h-1zM1029 328h2v1h-2zM1031 327h2v1h-2zM1033 326h2v1h-2zM1035 325h2v1h-2zM1037 324h2v1h-2zM1039 323h2v1h-2zM1041 322h2v1h-2zM1043 321h2v1h-2zM1045 320h1v1h-1zM1046 319h2v1h-2zM1048 318h3v1h-3zM1051 317h2v1h-2zM1053 316h2v1h-2zM1055 315h2v1h-2zM1057 314h3v1h-3zM1060 313h2v1h-2zM1062 312h2v1h-2zM1064 311h2v1h-2zM1066 310h2v1h-2zM1068 309h2v1h-2zM1070 308h2v1h-2zM1072 307h2v1h-2zM1074 306h2v1h-2zM1076 305h2v1h-2zM1078 304h2v1h-2zM1080 303h1v1h-1zM1081 302h1v1h-1zM1082 301h2v1h-2zM1084 300h1v1h-1zM1085 299h2v1h-2zM1087 298h1v1h-1zM1088 297h2v1h-2zM1090 296h1v1h-1zM1091 295h1v1h-1zM1092 294h2v1h-2zM1094 293h1v1h-1zM1095 292h2v1h-2zM1097 291h2v1h-2zM1099 290h2v1h-2zM1101 289h2v1h-2zM1103 288h2v1h-2zM1105 287h2v1h-2zM1107 286h3v1h-3zM1110 285h2v1h-2zM1112 284h3v1h-3zM1115 283h3v1h-3zM1118 282h3v1h-3zM1121 281h4v1h-4zM1125 280h4v1h-4zM1129 279h3v1h-3zM1132 278h4v1h-4zM1136 277h6v1h-6zM1142 276h5v1h-5zM1147 275h6v1h-6zM1153 274h7v1h-7zM1160 273h8v1h-8zM1168 272h8v1h-8z"/>
<rect x="7" y="212" width="1192" height="2" fill="#ff0000" shape-rendering="crispEdges"/>
<rect x="7" y="250" width="1192" height="2" fill="#ff0000" shape-rendering="crispEdges"/>
<rect x="7" y="306" width="1192" height="2" fill="#00c800" shape-rendering="crispEdges"/>
<rect x="7" y="353" width="1192" height="2" fill="#3a55e0" shape-rendering="crispEdges"/>
<rect x="7" y="400" width="1192" height="2" fill="#3a55e0" shape-rendering="crispEdges"/>
</g>
<text x="896.9" y="112.5" style="font-size:34.7px;fill:#ff0000;stroke:none;font-weight:350" textLength="173.6" lengthAdjust="spacing">多空转折点</text><text x="1070.5" y="111.4" style="font-size:35.5px;fill:#ff0000;stroke:none;font-weight:350" textLength="40.6" lengthAdjust="spacingAndGlyphs">70</text>
<g clip-path="url(#c2)">
<g shape-rendering="crispEdges">
<rect x="7" y="495" width="1" height="1" fill="#c0c0c0"/><rect x="15" y="494" width="1" height="2" fill="#c0c0c0"/><rect x="23" y="493" width="1" height="3" fill="#c0c0c0"/><rect x="31" y="492" width="1" height="4" fill="#c0c0c0"/><rect x="39" y="488" width="1" height="8" fill="#c0c0c0"/><rect x="47" y="484" width="1" height="12" fill="#c0c0c0"/><rect x="55" y="481" width="1" height="15" fill="#c0c0c0"/><rect x="63" y="480" width="1" height="16" fill="#c0c0c0"/><rect x="71" y="480" width="1" height="16" fill="#c0c0c0"/><rect x="79" y="482" width="1" height="14" fill="#c0c0c0"/><rect x="87" y="487" width="1" height="9" fill="#c0c0c0"/><rect x="95" y="490" width="1" height="6" fill="#c0c0c0"/><rect x="103" y="493" width="1" height="3" fill="#c0c0c0"/><rect x="111" y="495" width="1" height="1" fill="#c0c0c0"/><rect x="119" y="495" width="1" height="3" fill="#c0c0c0"/><rect x="127" y="495" width="1" height="3" fill="#c0c0c0"/><rect x="135" y="495" width="1" height="4" fill="#c0c0c0"/><rect x="143" y="495" width="1" height="5" fill="#c0c0c0"/><rect x="151" y="495" width="1" height="6" fill="#c0c0c0"/><rect x="159" y="495" width="1" height="7" fill="#c0c0c0"/><rect x="167" y="495" width="1" height="10" fill="#c0c0c0"/><rect x="175" y="495" width="1" height="10" fill="#c0c0c0"/><rect x="183" y="495" width="1" height="10" fill="#c0c0c0"/><rect x="191" y="495" width="1" height="10" fill="#c0c0c0"/><rect x="199" y="495" width="1" height="10" fill="#c0c0c0"/><rect x="207" y="495" width="1" height="10" fill="#c0c0c0"/><rect x="215" y="495" width="1" height="10" fill="#c0c0c0"/><rect x="223" y="495" width="1" height="13" fill="#c0c0c0"/><rect x="231" y="495" width="1" height="13" fill="#c0c0c0"/><rect x="239" y="495" width="1" height="11" fill="#c0c0c0"/><rect x="247" y="495" width="1" height="10" fill="#c0c0c0"/><rect x="255" y="495" width="1" height="8" fill="#c0c0c0"/><rect x="263" y="495" width="1" height="6" fill="#c0c0c0"/><rect x="271" y="495" width="1" height="5" fill="#c0c0c0"/><rect x="279" y="495" width="1" height="6" fill="#c0c0c0"/><rect x="287" y="495" width="1" height="6" fill="#c0c0c0"/><rect x="295" y="495" width="1" height="6" fill="#c0c0c0"/><rect x="303" y="495" width="1" height="7" fill="#c0c0c0"/><rect x="311" y="495" width="1" height="7" fill="#c0c0c0"/><rect x="319" y="495" width="1" height="7" fill="#c0c0c0"/><rect x="327" y="495" width="1" height="8" fill="#c0c0c0"/><rect x="335" y="495" width="1" height="13" fill="#c0c0c0"/><rect x="343" y="495" width="1" height="17" fill="#c0c0c0"/><rect x="351" y="495" width="1" height="21" fill="#c0c0c0"/><rect x="359" y="495" width="1" height="25" fill="#c0c0c0"/><rect x="367" y="495" width="1" height="26" fill="#c0c0c0"/><rect x="375" y="495" width="1" height="26" fill="#c0c0c0"/><rect x="383" y="495" width="1" height="25" fill="#c0c0c0"/><rect x="391" y="495" width="1" height="23" fill="#c0c0c0"/><rect x="399" y="495" width="1" height="19" fill="#c0c0c0"/><rect x="407" y="495" width="1" height="18" fill="#c0c0c0"/><rect x="415" y="495" width="1" height="21" fill="#c0c0c0"/><rect x="423" y="495" width="1" height="24" fill="#c0c0c0"/><rect x="431" y="495" width="1" height="26" fill="#c0c0c0"/><rect x="439" y="495" width="1" height="28" fill="#c0c0c0"/><rect x="447" y="495" width="1" height="29" fill="#c0c0c0"/><rect x="455" y="495" width="1" height="29" fill="#c0c0c0"/><rect x="463" y="495" width="1" height="29" fill="#c0c0c0"/><rect x="471" y="495" width="1" height="29" fill="#c0c0c0"/><rect x="479" y="495" width="1" height="26" fill="#c0c0c0"/><rect x="487" y="495" width="1" height="24" fill="#c0c0c0"/><rect x="495" y="495" width="1" height="23" fill="#c0c0c0"/><rect x="503" y="495" width="1" height="22" fill="#c0c0c0"/><rect x="511" y="495" width="1" height="21" fill="#c0c0c0"/><rect x="519" y="495" width="1" height="21" fill="#c0c0c0"/><rect x="527" y="495" width="1" height="16" fill="#c0c0c0"/><rect x="535" y="495" width="1" height="11" fill="#c0c0c0"/><rect x="543" y="495" width="1" height="7" fill="#c0c0c0"/><rect x="551" y="495" width="1" height="4" fill="#c0c0c0"/><rect x="567" y="494" width="1" height="2" fill="#c0c0c0"/><rect x="575" y="493" width="1" height="3" fill="#c0c0c0"/><rect x="583" y="492" width="1" height="4" fill="#c0c0c0"/><rect x="591" y="492" width="1" height="4" fill="#c0c0c0"/><rect x="599" y="491" width="1" height="5" fill="#c0c0c0"/><rect x="607" y="491" width="1" height="5" fill="#c0c0c0"/><rect x="615" y="492" width="1" height="4" fill="#c0c0c0"/><rect x="623" y="492" width="1" height="4" fill="#c0c0c0"/><rect x="631" y="493" width="1" height="3" fill="#c0c0c0"/><rect x="639" y="494" width="1" height="2" fill="#c0c0c0"/><rect x="647" y="495" width="1" height="1" fill="#c0c0c0"/><rect x="655" y="495" width="1" height="7" fill="#c0c0c0"/><rect x="663" y="495" width="1" height="14" fill="#c0c0c0"/><rect x="671" y="495" width="1" height="28" fill="#c0c0c0"/><rect x="679" y="495" width="1" height="41" fill="#c0c0c0"/><rect x="687" y="495" width="1" height="44" fill="#c0c0c0"/><rect x="695" y="495" width="1" height="45" fill="#c0c0c0"/><rect x="703" y="495" width="1" height="46" fill="#c0c0c0"/><rect x="711" y="495" width="1" height="46" fill="#c0c0c0"/><rect x="719" y="495" width="1" height="46" fill="#c0c0c0"/><rect x="727" y="495" width="1" height="50" fill="#c0c0c0"/><rect x="735" y="495" width="1" height="49" fill="#c0c0c0"/><rect x="743" y="495" width="1" height="47" fill="#c0c0c0"/><rect x="751" y="495" width="1" height="51" fill="#c0c0c0"/><rect x="759" y="495" width="1" height="54" fill="#c0c0c0"/><rect x="767" y="495" width="1" height="57" fill="#c0c0c0"/><rect x="775" y="495" width="1" height="60" fill="#c0c0c0"/><rect x="783" y="495" width="1" height="61" fill="#c0c0c0"/><rect x="791" y="495" width="1" height="60" fill="#c0c0c0"/><rect x="799" y="495" width="1" height="56" fill="#c0c0c0"/><rect x="807" y="495" width="1" height="51" fill="#c0c0c0"/><rect x="815" y="495" width="1" height="48" fill="#c0c0c0"/><rect x="823" y="495" width="1" height="51" fill="#c0c0c0"/><rect x="831" y="495" width="1" height="51" fill="#c0c0c0"/><rect x="839" y="495" width="1" height="51" fill="#c0c0c0"/><rect x="847" y="495" width="1" height="49" fill="#c0c0c0"/><rect x="855" y="495" width="1" height="48" fill="#c0c0c0"/><rect x="863" y="495" width="1" height="46" fill="#c0c0c0"/><rect x="871" y="495" width="1" height="43" fill="#c0c0c0"/><rect x="879" y="495" width="1" height="40" fill="#c0c0c0"/><rect x="887" y="495" width="1" height="35" fill="#c0c0c0"/><rect x="895" y="495" width="1" height="32" fill="#c0c0c0"/><rect x="903" y="495" width="1" height="28" fill="#c0c0c0"/><rect x="911" y="495" width="1" height="25" fill="#c0c0c0"/><rect x="919" y="495" width="1" height="27" fill="#c0c0c0"/><rect x="927" y="495" width="1" height="27" fill="#c0c0c0"/><rect x="935" y="495" width="1" height="24" fill="#c0c0c0"/><rect x="943" y="495" width="1" height="21" fill="#c0c0c0"/><rect x="951" y="495" width="1" height="19" fill="#c0c0c0"/><rect x="959" y="495" width="1" height="15" fill="#c0c0c0"/><rect x="967" y="495" width="1" height="13" fill="#c0c0c0"/><rect x="975" y="495" width="1" height="7" fill="#c0c0c0"/><rect x="983" y="495" width="1" height="4" fill="#c0c0c0"/><rect x="999" y="492" width="1" height="4" fill="#c0c0c0"/><rect x="1007" y="486" width="1" height="10" fill="#c0c0c0"/><rect x="1015" y="480" width="1" height="16" fill="#c0c0c0"/><rect x="1023" y="477" width="1" height="19" fill="#c0c0c0"/><rect x="1031" y="476" width="1" height="20" fill="#c0c0c0"/><rect x="1039" y="474" width="1" height="22" fill="#c0c0c0"/><rect x="1047" y="474" width="1" height="22" fill="#c0c0c0"/><rect x="1055" y="472" width="1" height="24" fill="#c0c0c0"/><rect x="1063" y="472" width="1" height="24" fill="#c0c0c0"/><rect x="1071" y="471" width="1" height="25" fill="#c0c0c0"/><rect x="1079" y="471" width="1" height="25" fill="#c0c0c0"/><rect x="1087" y="470" width="1" height="26" fill="#c0c0c0"/><rect x="1095" y="470" width="1" height="26" fill="#c0c0c0"/><rect x="1103" y="471" width="1" height="25" fill="#c0c0c0"/><rect x="1111" y="474" width="1" height="22" fill="#c0c0c0"/><rect x="1119" y="478" width="1" height="18" fill="#c0c0c0"/><rect x="1127" y="482" width="1" height="14" fill="#c0c0c0"/><rect x="1135" y="484" width="1" height="12" fill="#c0c0c0"/><rect x="1143" y="486" width="1" height="10" fill="#c0c0c0"/><rect x="1151" y="486" width="1" height="10" fill="#c0c0c0"/><rect x="1159" y="487" width="1" height="9" fill="#c0c0c0"/><rect x="1167" y="487" width="1" height="9" fill="#c0c0c0"/><rect x="1175" y="487" width="1" height="9" fill="#c0c0c0"/>
</g>
<path fill="#ff0000" shape-rendering="crispEdges" d="M7 499h3v1h-3zM13 498h4v1h-4zM17 497h1v1h-1zM21 497h1v1h-1zM22 496h4v1h-4zM29 495h4v1h-4zM33 494h1v1h-1zM37 493h5v1h-5zM45 492h4v1h-4zM49 491h1v1h-1zM53 490h4v1h-4zM57 489h1v1h-1zM61 488h3v1h-3zM64 487h2v1h-2zM69 486h5v1h-5zM77 485h5v1h-5zM85 484h5v1h-5zM93 484h5v1h-5zM101 484h5v1h-5zM109 485h5v1h-5zM117 486h1v1h-1zM118 487h4v1h-4zM125 488h1v1h-1zM126 489h4v1h-4zM133 490h2v1h-2zM135 491h3v1h-3zM141 492h2v1h-2zM143 493h3v1h-3zM149 494h2v1h-2zM151 495h3v1h-3zM157 496h2v1h-2zM159 497h3v1h-3zM165 498h1v1h-1zM166 499h4v1h-4zM173 500h4v1h-4zM177 501h1v1h-1zM181 501h5v1h-5zM189 502h5v1h-5zM197 503h5v1h-5zM205 504h5v1h-5zM213 504h5v1h-5zM221 505h5v1h-5zM229 506h5v1h-5zM237 506h5v1h-5zM245 506h5v1h-5zM253 506h5v1h-5zM261 505h5v1h-5zM269 505h5v1h-5zM277 504h5v1h-5zM285 504h5v1h-5zM293 503h5v1h-5zM301 502h5v1h-5zM309 502h5v1h-5zM317 501h5v1h-5zM325 502h5v1h-5zM333 502h4v1h-4zM337 503h1v1h-1zM341 504h5v1h-5zM349 505h5v1h-5zM357 507h4v1h-4zM361 508h1v1h-1zM365 509h1v1h-1zM366 510h4v1h-4zM373 511h1v1h-1zM374 512h4v1h-4zM381 514h4v1h-4zM385 515h1v1h-1zM389 516h5v1h-5zM397 517h5v1h-5zM405 517h5v1h-5zM413 518h5v1h-5zM421 518h5v1h-5zM429 518h5v1h-5zM437 518h5v1h-5zM445 519h5v1h-5zM453 519h5v1h-5zM461 520h5v1h-5zM469 521h5v1h-5zM477 522h5v1h-5zM485 522h5v1h-5zM493 522h5v1h-5zM501 522h5v1h-5zM509 521h5v1h-5zM517 520h4v1h-4zM521 519h1v1h-1zM525 518h3v1h-3zM528 517h2v1h-2zM533 516h3v1h-3zM536 515h2v1h-2zM541 514h3v1h-3zM544 513h2v1h-2zM549 512h1v1h-1zM550 511h3v1h-3zM553 510h1v1h-1zM557 509h3v1h-3zM560 508h2v1h-2zM565 507h1v1h-1zM566 506h3v1h-3zM569 505h1v1h-1zM573 504h1v1h-1zM574 503h3v1h-3zM577 502h1v1h-1zM581 501h3v1h-3zM584 500h2v1h-2zM589 499h1v1h-1zM590 498h2v1h-2zM592 497h2v1h-2zM597 496h1v1h-1zM598 495h4v1h-4zM605 494h5v1h-5zM613 492h5v1h-5zM621 492h5v1h-5zM629 491h5v1h-5zM637 491h5v1h-5zM645 492h5v1h-5zM653 493h5v1h-5zM661 494h1v1h-1zM662 495h3v1h-3zM665 496h1v1h-1zM669 498h1v1h-1zM670 499h2v1h-2zM672 500h2v1h-2zM677 503h1v1h-1zM678 504h2v1h-2zM680 505h2v1h-2zM685 508h2v1h-2zM687 509h1v1h-1zM688 510h2v1h-2zM693 513h1v1h-1zM694 514h2v1h-2zM696 515h1v1h-1zM697 516h1v1h-1zM701 518h1v1h-1zM702 519h1v1h-1zM703 520h2v1h-2zM705 521h1v1h-1zM709 524h2v1h-2zM711 525h2v1h-2zM713 526h1v1h-1zM717 529h2v1h-2zM719 530h2v1h-2zM721 531h1v1h-1zM725 533h1v1h-1zM726 534h1v1h-1zM727 535h2v1h-2zM729 536h1v1h-1zM733 537h1v1h-1zM734 538h2v1h-2zM736 539h2v1h-2zM741 541h5v1h-5zM749 542h5v1h-5zM757 543h5v1h-5zM765 544h1v1h-1zM766 545h4v1h-4zM773 546h4v1h-4zM777 547h1v1h-1zM781 548h5v1h-5zM789 549h5v1h-5zM797 550h5v1h-5zM805 550h5v1h-5zM813 550h5v1h-5zM821 550h5v1h-5zM829 550h5v1h-5zM837 549h5v1h-5zM845 548h5v1h-5zM853 547h5v1h-5zM861 545h5v1h-5zM869 544h4v1h-4zM873 543h1v1h-1zM877 543h1v1h-1zM878 542h4v1h-4zM885 541h4v1h-4zM889 540h1v1h-1zM893 539h3v1h-3zM896 538h2v1h-2zM901 537h1v1h-1zM902 536h2v1h-2zM904 535h2v1h-2zM909 534h1v1h-1zM910 533h3v1h-3zM913 532h1v1h-1zM917 531h3v1h-3zM920 530h2v1h-2zM925 529h3v1h-3zM928 528h2v1h-2zM933 526h3v1h-3zM936 525h2v1h-2zM941 524h3v1h-3zM944 523h2v1h-2zM949 522h4v1h-4zM953 521h1v1h-1zM957 520h1v1h-1zM958 519h3v1h-3zM961 518h1v1h-1zM965 517h3v1h-3zM968 516h2v1h-2zM973 515h3v1h-3zM976 514h2v1h-2zM981 513h4v1h-4zM985 512h1v1h-1zM989 510h3v1h-3zM992 509h2v1h-2zM997 506h2v1h-2zM999 505h2v1h-2zM1001 504h1v1h-1zM1005 502h3v1h-3zM1008 501h1v1h-1zM1009 500h1v1h-1zM1013 498h2v1h-2zM1015 497h2v1h-2zM1017 496h1v1h-1zM1021 494h3v1h-3zM1024 493h2v1h-2zM1029 491h1v1h-1zM1030 490h2v1h-2zM1032 489h2v1h-2zM1037 487h2v1h-2zM1039 486h3v1h-3zM1045 484h2v1h-2zM1047 483h2v1h-2zM1049 482h1v1h-1zM1053 481h1v1h-1zM1054 480h3v1h-3zM1057 479h1v1h-1zM1061 478h1v1h-1zM1062 477h3v1h-3zM1065 476h1v1h-1zM1069 475h3v1h-3zM1072 474h2v1h-2zM1077 473h5v1h-5zM1085 472h5v1h-5zM1093 471h5v1h-5zM1101 471h5v1h-5zM1109 471h5v1h-5zM1117 471h5v1h-5zM1125 472h5v1h-5zM1133 473h2v1h-2zM1135 474h3v1h-3zM1141 475h5v1h-5zM1149 476h2v1h-2zM1151 477h3v1h-3zM1157 478h1v1h-1zM1158 479h4v1h-4zM1165 480h1v1h-1zM1166 481h4v1h-4zM1173 482h2v1h-2zM1175 483h1v1h-1z"/>
</g>
<g clip-path="url(#c3)">
<line x1="8" x2="1199" y1="594.5" y2="594.5" stroke="#bcbcbc" stroke-width="1" stroke-dasharray="3 3" shape-rendering="crispEdges"/>
<line x1="8" x2="1199" y1="633.5" y2="633.5" stroke="#bcbcbc" stroke-width="1" stroke-dasharray="3 3" shape-rendering="crispEdges"/>
<path fill="#1e90ff" shape-rendering="crispEdges" d="M7 612h3v1h-3zM10 611h7v1h-7zM17 610h5v1h-5zM22 609h3v1h-3zM25 608h3v1h-3zM28 607h3v1h-3zM31 606h1v1h-1zM32 605h1v1h-1zM33 604h1v1h-1zM34 603h1v1h-1zM35 602h1v1h-1zM36 601h1v1h-1zM37 600h1v1h-1zM38 599h1v1h-1zM39 598h3v1h-3zM42 597h4v1h-4zM46 596h2v1h-2zM48 597h3v1h-3zM51 598h2v1h-2zM53 599h2v1h-2zM55 600h10v1h-10zM65 601h2v1h-2zM67 602h3v1h-3zM70 603h2v1h-2zM72 604h1v2h-1zM73 606h1v1h-1zM74 607h1v1h-1zM75 608h1v1h-1zM76 609h1v1h-1zM77 610h1v1h-1zM78 611h1v2h-1zM79 613h1v1h-1zM80 614h1v1h-1zM81 615h1v1h-1zM82 616h1v1h-1zM83 617h1v1h-1zM84 618h1v1h-1zM85 619h1v2h-1zM86 621h1v1h-1zM87 622h1v1h-1zM88 621h3v1h-3zM91 620h3v1h-3zM94 619h18v1h-18zM112 620h2v1h-2zM114 621h2v1h-2zM116 622h1v1h-1zM117 623h2v1h-2zM119 624h1v1h-1zM120 623h1v1h-1zM121 622h1v1h-1zM122 621h1v1h-1zM123 619h1v2h-1zM124 618h1v1h-1zM125 617h1v1h-1zM126 616h1v1h-1zM127 615h2v1h-2zM129 616h2v1h-2zM131 617h2v1h-2zM133 618h2v1h-2zM135 619h4v1h-4zM139 618h7v1h-7zM146 619h5v1h-5zM151 620h9v1h-9zM160 621h2v1h-2zM162 622h2v1h-2zM164 623h1v1h-1zM165 624h2v1h-2zM167 625h1v1h-1zM168 624h1v1h-1zM169 623h2v1h-2zM171 622h1v1h-1zM172 621h1v1h-1zM173 620h2v1h-2zM175 619h20v1h-20zM195 618h5v1h-5zM200 619h2v1h-2zM202 620h2v1h-2zM204 621h1v1h-1zM205 622h2v1h-2zM207 623h3v1h-3zM210 622h7v1h-7zM217 623h3v1h-3zM220 624h3v1h-3zM223 625h2v1h-2zM225 624h3v1h-3zM228 623h4v1h-4zM232 622h1v1h-1zM233 621h1v1h-1zM234 620h1v1h-1zM235 619h1v1h-1zM236 618h1v1h-1zM237 617h1v1h-1zM238 616h1v1h-1zM239 615h5v1h-5zM244 616h4v1h-4zM248 615h2v1h-2zM250 614h1v1h-1zM251 613h2v1h-2zM253 612h2v1h-2zM255 611h4v1h-4zM259 612h9v1h-9zM268 613h4v1h-4zM272 614h2v1h-2zM274 615h2v1h-2zM276 616h2v1h-2zM278 617h1v1h-1zM279 618h1v1h-1zM280 617h4v1h-4zM284 616h6v1h-6zM290 617h4v1h-4zM294 618h3v1h-3zM297 619h3v1h-3zM300 620h2v1h-2zM302 621h3v1h-3zM305 620h4v1h-4zM309 619h5v1h-5zM314 620h4v1h-4zM318 621h3v1h-3zM321 622h2v1h-2zM323 623h2v1h-2zM325 624h2v1h-2zM327 625h1v1h-1zM328 626h1v1h-1zM329 627h2v1h-2zM331 628h1v1h-1zM332 629h1v1h-1zM333 630h1v1h-1zM334 631h1v1h-1zM335 632h2v1h-2zM337 633h2v1h-2zM339 634h3v1h-3zM342 635h2v1h-2zM344 636h3v1h-3zM347 637h4v1h-4zM351 638h5v1h-5zM356 639h4v1h-4zM360 638h1v1h-1zM361 637h1v1h-1zM362 636h1v1h-1zM363 635h1v1h-1zM364 634h1v1h-1zM365 633h1v1h-1zM366 632h1v1h-1zM367 631h3v1h-3zM370 630h3v1h-3zM373 629h3v1h-3zM376 628h1v1h-1zM377 627h1v1h-1zM378 626h1v1h-1zM379 625h1v1h-1zM380 624h2v1h-2zM382 623h1v1h-1zM383 622h9v1h-9zM392 621h1v1h-1zM393 620h2v1h-2zM395 619h1v1h-1zM396 618h1v1h-1zM397 617h2v1h-2zM399 616h8v1h-8zM407 616h1v2h-1zM408 618h1v2h-1zM409 620h1v2h-1zM410 622h1v1h-1zM411 623h1v2h-1zM412 625h1v2h-1zM413 627h1v2h-1zM414 629h1v2h-1zM415 631h3v1h-3zM418 630h3v1h-3zM421 629h5v1h-5zM426 630h5v1h-5zM431 631h6v1h-6zM437 632h12v1h-12zM449 631h2v1h-2zM451 630h3v1h-3zM454 629h12v1h-12zM466 630h3v1h-3zM469 631h3v1h-3zM472 629h1v2h-1zM473 628h1v1h-1zM474 627h1v1h-1zM475 625h1v2h-1zM476 624h1v1h-1zM477 622h1v2h-1zM478 621h1v1h-1zM479 620h10v1h-10zM489 621h5v1h-5zM494 622h7v1h-7zM501 623h7v1h-7zM508 624h5v1h-5zM513 625h4v1h-4zM517 626h2v1h-2zM519 625h1v2h-1zM520 623h1v2h-1zM521 620h1v3h-1zM522 618h1v2h-1zM523 616h1v2h-1zM524 613h1v3h-1zM525 611h1v2h-1zM526 609h1v2h-1zM527 607h1v2h-1zM528 607h5v1h-5zM533 606h5v1h-5zM538 607h4v1h-4zM542 608h3v1h-3zM545 607h4v1h-4zM549 606h3v1h-3zM552 605h4v1h-4zM556 604h6v1h-6zM562 605h2v1h-2zM564 606h3v1h-3zM567 607h11v1h-11zM578 608h5v1h-5zM583 609h22v1h-22zM605 610h6v1h-6zM611 611h6v1h-6zM617 612h2v1h-2zM619 613h3v1h-3zM622 614h3v1h-3zM625 613h4v1h-4zM629 612h3v1h-3zM632 613h1v1h-1zM633 614h2v1h-2zM635 615h1v1h-1zM636 616h1v1h-1zM637 617h1v1h-1zM638 618h1v1h-1zM639 619h1v1h-1zM640 620h1v1h-1zM641 621h1v1h-1zM642 622h1v1h-1zM643 623h1v1h-1zM644 624h1v1h-1zM645 625h1v1h-1zM646 626h1v1h-1zM647 627h1v1h-1zM648 628h1v1h-1zM649 629h1v1h-1zM650 630h1v1h-1zM651 631h1v1h-1zM652 632h1v1h-1zM653 633h1v1h-1zM654 634h1v1h-1zM655 635h1v1h-1zM656 636h2v1h-2zM658 637h2v1h-2zM660 638h2v1h-2zM662 639h1v1h-1zM663 640h1v1h-1zM664 641h1v1h-1zM665 642h1v1h-1zM666 643h1v1h-1zM667 644h1v1h-1zM668 645h1v1h-1zM669 646h1v1h-1zM670 647h1v1h-1zM671 648h2v1h-2zM673 649h4v1h-4zM677 650h2v1h-2zM679 649h1v2h-1zM680 647h1v2h-1zM681 644h1v3h-1zM682 642h1v2h-1zM683 639h1v3h-1zM684 637h1v2h-1zM685 634h1v3h-1zM686 632h1v2h-1zM687 630h1v2h-1zM688 630h2v1h-2zM690 629h3v1h-3zM693 628h8v1h-8zM701 629h14v1h-14zM715 630h5v1h-5zM720 631h2v1h-2zM722 632h1v1h-1zM723 633h2v1h-2zM725 634h2v1h-2zM727 635h1v1h-1zM728 634h1v1h-1zM729 633h1v1h-1zM730 631h1v2h-1zM731 630h1v1h-1zM732 629h1v1h-1zM733 628h1v1h-1zM734 627h1v1h-1zM735 626h5v1h-5zM740 627h4v1h-4zM744 628h2v1h-2zM746 629h1v1h-1zM747 630h2v1h-2zM749 631h1v1h-1zM750 632h1v1h-1zM751 633h5v1h-5zM756 634h6v1h-6zM762 635h6v1h-6zM768 636h5v1h-5zM773 637h3v1h-3zM776 636h2v1h-2zM778 635h2v1h-2zM780 634h2v1h-2zM782 633h2v1h-2zM784 632h2v1h-2zM786 631h2v1h-2zM788 630h2v1h-2zM790 629h2v1h-2zM792 628h2v1h-2zM794 627h3v1h-3zM797 626h2v1h-2zM799 625h2v1h-2zM801 624h3v1h-3zM804 623h2v1h-2zM806 622h6v1h-6zM812 623h4v1h-4zM816 624h1v1h-1zM817 625h1v1h-1zM818 626h1v1h-1zM819 627h1v2h-1zM820 629h1v1h-1zM821 630h1v1h-1zM822 631h1v1h-1zM823 632h2v1h-2zM825 631h2v1h-2zM827 630h3v1h-3zM830 629h4v1h-4zM834 628h6v1h-6zM840 627h5v1h-5zM845 626h7v1h-7zM852 627h7v1h-7zM859 626h6v1h-6zM865 625h2v1h-2zM867 624h3v1h-3zM870 623h4v1h-4zM874 622h7v1h-7zM881 621h5v1h-5zM886 620h6v1h-6zM892 619h5v1h-5zM897 618h4v1h-4zM901 617h11v1h-11zM912 618h1v2h-1zM913 620h1v1h-1zM914 621h1v1h-1zM915 622h1v2h-1zM916 624h1v1h-1zM917 625h1v1h-1zM918 626h1v2h-1zM919 628h1v1h-1zM920 627h2v1h-2zM922 626h2v1h-2zM924 625h2v1h-2zM926 624h2v1h-2zM928 623h2v1h-2zM930 622h1v1h-1zM931 621h2v1h-2zM933 620h1v1h-1zM934 619h1v1h-1zM935 618h6v1h-6zM941 617h6v1h-6zM947 616h5v1h-5zM952 615h2v1h-2zM954 614h2v1h-2zM956 613h2v1h-2zM958 612h4v1h-4zM962 613h3v1h-3zM965 614h3v1h-3zM968 613h1v1h-1zM969 612h1v1h-1zM970 611h1v1h-1zM971 610h1v1h-1zM972 609h1v1h-1zM973 608h1v1h-1zM974 607h1v1h-1zM975 606h12v1h-12zM987 605h5v1h-5zM992 604h3v1h-3zM995 603h3v1h-3zM998 602h2v1h-2zM1000 601h2v1h-2zM1002 600h1v1h-1zM1003 599h2v1h-2zM1005 598h2v1h-2zM1007 597h2v1h-2zM1009 596h2v1h-2zM1011 595h3v1h-3zM1014 594h2v1h-2zM1016 595h2v1h-2zM1018 596h1v1h-1zM1019 597h1v1h-1zM1020 598h2v1h-2zM1022 599h1v1h-1zM1023 600h13v1h-13zM1036 601h5v1h-5zM1041 602h5v1h-5zM1046 603h2v1h-2zM1048 602h2v1h-2zM1050 601h1v1h-1zM1051 600h2v1h-2zM1053 599h2v1h-2zM1055 598h1v1h-1zM1056 599h3v1h-3zM1059 600h2v1h-2zM1061 601h2v1h-2zM1063 602h2v1h-2zM1065 601h4v1h-4zM1069 600h12v1h-12zM1081 599h5v1h-5zM1086 598h2v1h-2zM1088 599h3v1h-3zM1091 600h2v1h-2zM1093 601h2v1h-2zM1095 602h2v1h-2zM1097 603h1v1h-1zM1098 604h2v1h-2zM1100 605h1v1h-1zM1101 606h2v1h-2zM1103 607h5v1h-5zM1108 608h4v1h-4zM1112 609h1v1h-1zM1113 610h1v1h-1zM1114 611h1v1h-1zM1115 612h1v1h-1zM1116 613h1v1h-1zM1117 614h1v1h-1zM1118 615h1v1h-1zM1119 616h9v1h-9zM1128 615h3v1h-3zM1131 614h3v1h-3zM1134 613h3v1h-3zM1137 614h4v1h-4zM1141 615h3v1h-3zM1144 614h1v1h-1zM1145 613h2v1h-2zM1147 612h1v1h-1zM1148 611h1v1h-1zM1149 610h1v1h-1zM1150 609h7v1h-7zM1157 610h4v1h-4zM1161 609h4v1h-4zM1165 608h6v1h-6zM1171 607h5v1h-5z"/>
</g>
<g shape-rendering="crispEdges">
<rect x="0" y="0" width="2" height="688" fill="#e6e6e6"/><rect x="2" y="0" width="1" height="684" fill="#8a8a8a"/><rect x="3" y="0" width="1" height="684" fill="#444"/><rect x="2" y="0" width="1238" height="1" fill="#3a3a3a"/><rect x="1240" y="1" width="1" height="684" fill="#e6e6e6"/><rect x="2" y="684" width="1239" height="1" fill="#dcdcdc"/><rect x="2" y="685" width="1239" height="1" fill="#f4f4f4"/><rect x="2" y="686" width="7" height="1" fill="#111"/><rect x="2" y="687" width="2" height="1" fill="#111"/><rect x="8" y="687" width="1" height="1" fill="#111"/><rect x="87" y="686" width="1155" height="1" fill="#111"/><rect x="87" y="687" width="1" height="1" fill="#111"/>
<rect x="6" y="3" width="1" height="661" fill="#000"/><rect x="1199" y="3" width="1" height="661" fill="#000"/><rect x="6" y="3" width="1194" height="1" fill="#000"/><rect x="6" y="461" width="1194" height="1" fill="#000"/><rect x="6" y="463" width="1194" height="1" fill="#000"/><rect x="6" y="561" width="1194" height="1" fill="#000"/><rect x="6" y="563" width="1194" height="1" fill="#000"/><rect x="6" y="663" width="1194" height="1" fill="#000"/><rect x="6" y="462" width="1194" height="1" fill="#fff"/><rect x="6" y="562" width="1194" height="1" fill="#fff"/>
<rect x="1200" y="29" width="2" height="1" fill="#000"/><rect x="1200" y="62" width="2" height="1" fill="#000"/><rect x="1200" y="95" width="2" height="1" fill="#000"/><rect x="1200" y="128" width="2" height="1" fill="#000"/><rect x="1200" y="161" width="2" height="1" fill="#000"/><rect x="1200" y="194" width="2" height="1" fill="#000"/><rect x="1200" y="227" width="2" height="1" fill="#000"/><rect x="1200" y="260" width="2" height="1" fill="#000"/><rect x="1200" y="293" width="2" height="1" fill="#000"/><rect x="1200" y="326" width="2" height="1" fill="#000"/><rect x="1200" y="359" width="2" height="1" fill="#000"/><rect x="1200" y="392" width="2" height="1" fill="#000"/><rect x="1200" y="425" width="2" height="1" fill="#000"/><rect x="1200" y="458" width="2" height="1" fill="#000"/><rect x="1200" y="495" width="2" height="1" fill="#000"/><rect x="1200" y="594" width="2" height="1" fill="#000"/><rect x="1200" y="633" width="2" height="1" fill="#000"/><rect x="1200" y="465" width="1" height="1" fill="#000"/><rect x="1200" y="560" width="1" height="1" fill="#000"/><rect x="1200" y="565" width="1" height="1" fill="#000"/><rect x="1200" y="661" width="1" height="1" fill="#000"/><rect x="7" y="664" width="1" height="3" fill="#000"/><rect x="71" y="664" width="1" height="3" fill="#000"/><rect x="135" y="664" width="1" height="3" fill="#000"/><rect x="199" y="664" width="1" height="3" fill="#000"/><rect x="263" y="664" width="1" height="3" fill="#000"/><rect x="327" y="664" width="1" height="3" fill="#000"/><rect x="391" y="664" width="1" height="3" fill="#000"/><rect x="455" y="664" width="1" height="3" fill="#000"/><rect x="519" y="664" width="1" height="3" fill="#000"/><rect x="583" y="664" width="1" height="3" fill="#000"/><rect x="647" y="664" width="1" height="3" fill="#000"/><rect x="711" y="664" width="1" height="3" fill="#000"/><rect x="775" y="664" width="1" height="3" fill="#000"/><rect x="839" y="664" width="1" height="3" fill="#000"/><rect x="903" y="664" width="1" height="3" fill="#000"/><rect x="967" y="664" width="1" height="3" fill="#000"/><rect x="1031" y="664" width="1" height="3" fill="#000"/><rect x="1095" y="664" width="1" height="3" fill="#000"/><rect x="1159" y="664" width="1" height="3" fill="#000"/>
</g>
<text transform="translate(1204.2 32.9) scale(0.92 1)">84.720</text><text transform="translate(1204.2 65.9) scale(0.92 1)">82.970</text><text transform="translate(1204.2 98.9) scale(0.92 1)">81.220</text><text transform="translate(1204.2 131.9) scale(0.92 1)">79.470</text><text transform="translate(1204.2 164.9) scale(0.92 1)">77.720</text><text transform="translate(1204.2 197.9) scale(0.92 1)">75.970</text><text transform="translate(1204.2 230.9) scale(0.92 1)">74.270</text><text transform="translate(1204.2 263.9) scale(0.92 1)">72.520</text><text transform="translate(1204.2 296.9) scale(0.92 1)">70.770</text><text transform="translate(1204.2 329.9) scale(0.92 1)">69.020</text><text transform="translate(1204.2 362.9) scale(0.92 1)">67.270</text><text transform="translate(1204.2 395.9) scale(0.92 1)">65.520</text><text transform="translate(1204.2 428.9) scale(0.92 1)">63.770</text><text transform="translate(1204.2 461.9) scale(0.92 1)">62.020</text>
<rect x="1202" y="207" width="34" height="11" fill="#ff0000" shape-rendering="crispEdges"/><text class="w" transform="translate(1204.2 215.9) scale(0.92 1)">75.000</text>
<rect x="1202" y="245" width="34" height="11" fill="#ff0000" shape-rendering="crispEdges"/><text class="w" transform="translate(1204.2 253.9) scale(0.92 1)">73.000</text>
<rect x="1202" y="266" width="34" height="11" fill="#000" shape-rendering="crispEdges"/><text class="w" transform="translate(1204.2 274.9) scale(0.92 1)">71.920</text>
<rect x="1202" y="301" width="34" height="11" fill="#00c800" shape-rendering="crispEdges"/><text class="w" transform="translate(1204.2 309.9) scale(0.92 1)">70.000</text>
<rect x="1202" y="348" width="34" height="11" fill="#3a55e0" shape-rendering="crispEdges"/><text class="w" transform="translate(1204.2 356.9) scale(0.92 1)">67.500</text>
<rect x="1202" y="395" width="34" height="11" fill="#3a55e0" shape-rendering="crispEdges"/><text class="w" transform="translate(1204.2 403.9) scale(0.92 1)">65.000</text>
<text transform="translate(1203.3 474) scale(0.92 1)">1.2294</text><text transform="translate(1203.5 498.8) scale(0.92 1)">0.00</text><text transform="translate(1203 558.3) scale(0.92 1)">-2.6252</text><text transform="translate(1203.6 574) scale(0.92 1)">100</text><text transform="translate(1201.9 598.1) scale(0.92 1)">70</text><text transform="translate(1201.9 637.2) scale(0.92 1)">30</text><text transform="translate(1203.4 660.1) scale(0.92 1)">0</text>
<text transform="translate(6 676) scale(0.92 1)">9 <tspan style="letter-spacing:.9px">Nov</tspan> 2021</text><text transform="translate(70 676) scale(0.92 1)">10 <tspan style="letter-spacing:.9px">Nov</tspan> 08:00</text><text transform="translate(134 676) scale(0.92 1)">11 <tspan style="letter-spacing:.9px">Nov</tspan> 16:00</text><text transform="translate(198 676) scale(0.92 1)">14 <tspan style="letter-spacing:.9px">Nov</tspan> 23:00</text><text transform="translate(262 676) scale(0.92 1)">16 <tspan style="letter-spacing:.9px">Nov</tspan> 04:00</text><text transform="translate(326 676) scale(0.92 1)">17 <tspan style="letter-spacing:.9px">Nov</tspan> 12:00</text><text transform="translate(390 676) scale(0.92 1)">18 <tspan style="letter-spacing:.9px">Nov</tspan> 20:00</text><text transform="translate(454 676) scale(0.92 1)">22 <tspan style="letter-spacing:.9px">Nov</tspan> 00:00</text><text transform="translate(518 676) scale(0.92 1)">23 <tspan style="letter-spacing:.9px">Nov</tspan> 08:00</text><text transform="translate(582 676) scale(0.92 1)">24 <tspan style="letter-spacing:.9px">Nov</tspan> 16:00</text><text transform="translate(646 676) scale(0.92 1)">26 <tspan style="letter-spacing:.9px">Nov</tspan> 00:00</text><text transform="translate(710 676) scale(0.92 1)">29 <tspan style="letter-spacing:.9px">Nov</tspan> 08:00</text><text transform="translate(774 676) scale(0.92 1)">30 <tspan style="letter-spacing:.9px">Nov</tspan> 16:00</text><text transform="translate(838 676) scale(0.92 1)">2 Dec 00:00</text><text transform="translate(902 676) scale(0.92 1)">3 Dec 08:00</text><text transform="translate(966 676) scale(0.92 1)">6 Dec 12:00</text><text transform="translate(1030 676) scale(0.92 1)">7 Dec 20:00</text><text transform="translate(1094 676) scale(0.92 1)">9 Dec 04:00</text><text transform="translate(1158 676) scale(0.92 1)">10 Dec 12:00</text>
<path d="M10 10h7v1h-1v1h-1v1h-1v1h-1v-1h-1v-1h-1v-1h-1z" fill="#000" shape-rendering="crispEdges"/>
<text style="letter-spacing:0.55px" transform="translate(21.4 15) scale(0.92 1)">USOil-,H4</text><text transform="translate(70.4 15) scale(0.92 1)">71.750</text><text transform="translate(100.9 15) scale(0.92 1)">72.080</text><text transform="translate(131.8 15) scale(0.92 1)">71.710</text><text style="letter-spacing:0.15px" transform="translate(163.1 15) scale(0.92 1)">71.920</text>
<text style="letter-spacing:0.35px" transform="translate(10.6 476.3) scale(0.92 1)">MACD(12,26,9)</text><text transform="translate(79.5 476.3) scale(0.92 1)">0.3807</text><text style="letter-spacing:0.25px" transform="translate(110.4 476.3) scale(0.92 1)">0.5034</text>
<text style="letter-spacing:0.1px" transform="translate(10.6 576.3) scale(0.92 1)">RSI(14)</text><text style="letter-spacing:0.05px" transform="translate(45.7 576.3) scale(0.92 1)">56.7983</text>
</svg>
</body></html>
